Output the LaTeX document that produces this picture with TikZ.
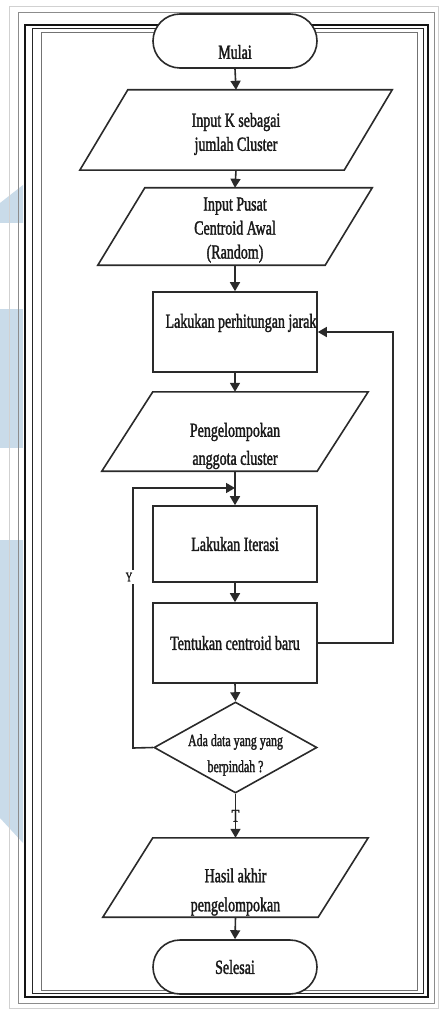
\documentclass[tikz,border=0pt]{standalone}
\usepackage{fontspec}
\newfontfamily\flowfont[FakeStretch=0.7,FakeBold=1.6]{Liberation Serif}
\usetikzlibrary{shapes.geometric,arrows.meta,calc}
\definecolor{linec}{HTML}{2A2A2A}
\definecolor{textc}{HTML}{1A1A1A}
\definecolor{wmark}{HTML}{C9DBE9}
\newcommand\drawpara[2]{\draw[shp] ($(#1.north west)+(#2,0)$) -- (#1.north east) -- ($(#1.south east)+(-#2,0)$) -- (#1.south west) -- cycle;}
\begin{document}
\begin{tikzpicture}[x=1pt,y=-1pt,
  shp/.style={draw=linec, line width=1.6pt},
  box/.style={shp, rectangle, minimum width=164pt, minimum height=80pt, inner sep=0pt, font=\flowfont\fontsize{20}{24}\selectfont, text=textc},
  term/.style={shp, fill=white, rectangle, rounded corners=27pt, minimum width=164pt, minimum height=54pt, inner sep=0pt, font=\flowfont\fontsize{20}{24}\selectfont, text=textc},
  pbox/.style={rectangle, draw=none, inner sep=0pt},
  txt/.style={font=\flowfont\fontsize{20}{24}\selectfont, text=textc, align=center, inner sep=0pt},
  arr/.style={draw=linec, line width=1.6pt, -{Triangle[width=10pt,length=9pt]}},
  fr1/.style={draw=black!18, line width=1pt},
  fr2/.style={draw=black!45, line width=1pt},
  fr3/.style={draw=black!92, line width=1.8pt},
  fr4/.style={draw=black!85, line width=1pt},
  fr5/.style={draw=black!55, line width=0.9pt},
]
\useasboundingbox (0,0) rectangle (440,1016);
% watermark fragments
\fill[wmark] (0,203) -- (23,185) -- (23,223) -- (0,223) -- cycle;
\fill[wmark] (0,309) rectangle (23,448);
\fill[wmark] (0,540) -- (23,540) -- (23,843) -- (0,818) -- cycle;
% page frame
\draw[fr1] (9,7) rectangle (438,1008);
\draw[fr2] (18,13) rectangle (434,1003);
\draw[fr3] (25,25) rectangle (428,997);
\draw[fr4] (32,29) rectangle (423,993);
\draw[fr5] (41,32) rectangle (417,990);

% nodes
\node[term] (mulai) at (235,41) {};
\node[txt] (mulaiT) at (235,52) {Mulai};

\node[pbox, minimum width=312pt, minimum height=80pt] (in1) at (236,130) {};
\drawpara{in1}{48}
\node[txt] (in1T) at (236,134) {Input K sebagai\\jumlah Cluster};

\node[pbox, minimum width=274pt, minimum height=77pt] (in2) at (235,226.5) {};
\drawpara{in2}{47}
\node[txt, text depth=0pt] (in2T) at (235,228) {Input Pusat\\Centroid Awal\\(Random)};

\node[box] (jarak) at (235,332) {};
\node[txt] (jarakT) at (241,323) {Lakukan perhitungan jarak};

\node[pbox, minimum width=266pt, minimum height=79pt] (grp) at (235,431.5) {};
\drawpara{grp}{51}
\node[txt, font=\flowfont\fontsize{20}{28}\selectfont] (grpT) at (235,446) {Pengelompokan\\anggota cluster};

\node[box, minimum height=76pt] (iter) at (235,544) {Lakukan Iterasi};
\node[box] (cent) at (235,643) {Tentukan centroid baru};

\node[shp, diamond, minimum width=163pt, minimum height=91pt, inner sep=0pt] (dia) at (235.5,747.5) {};
\node[txt, font=\flowfont\fontsize{17}{26}\selectfont] (diaT) at (235.5,755) {Ada data yang yang\\berpindah ?};

\node[pbox, minimum width=265pt, minimum height=79pt] (hasil) at (235.5,877.5) {};
\drawpara{hasil}{50}
\node[txt, font=\flowfont\fontsize{20}{29}\selectfont] (hasilT) at (235.5,892) {Hasil akhir\\pengelompokan};

\node[term] (selesai) at (235,967) {Selesai};

% connectors
\draw[arr] (mulai.south) -- (in1.north);
\draw[arr] (in1.south) -- (in2.north);
\draw[arr] (in2.south) -- (jarak.north);
\draw[arr] (jarak.south) -- (grp.north);
\draw[arr] (grp.south) -- (iter.north);
\draw[arr] (iter.south) -- (cent.north);
\draw[arr] (cent.south) -- (dia.north);
\draw[arr] (dia.south) -- node[txt, font=\flowfont\fontsize{18}{20}\selectfont, pos=0.5] (tlab) {T} (hasil.north);
\draw[arr] (hasil.south) -- (selesai.north);

\coordinate (rloop) at (393,643);
\draw[arr] (cent.east) -- (rloop) |- (jarak.east);

\coordinate (join) at (235,488);
\coordinate (lloop) at (133,748);
\draw[arr] (dia.west) -- (lloop) |- (join);
\node[txt, font=\flowfont\fontsize{13}{15}\selectfont, fill=white, inner xsep=3pt, inner ysep=3pt] (ylab) at (129,577) {Y};
\end{tikzpicture}
\end{document}
